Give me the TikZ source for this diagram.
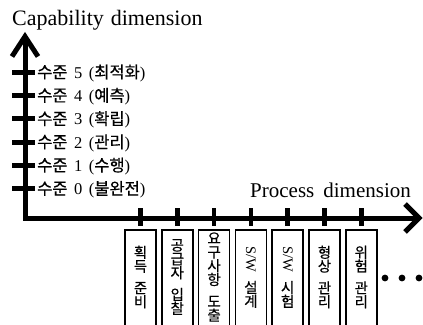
\documentclass[tikz,border=0pt]{standalone}
\usepackage{fontspec}
\usepackage{graphicx}
\setmainfont{Liberation Serif}
\newfontfamily\kr[FakeBold=0.4]{Noto Sans CJK KR}
\tikzset{
  axisline/.style={line width=5pt, line join=miter, line cap=butt},
  ytick/.style={line width=5pt},
  xtick/.style={line width=4.5pt},
  levellabel/.style={anchor=west, inner sep=0pt, font=\fontsize{16.5}{16.5}\selectfont},
  procbox/.style={draw, line width=1.6pt, minimum width=31pt, minimum height=100pt, anchor=north, inner sep=0pt},
  boxtext/.style={align=center, inner sep=0pt, font=\kr\fontsize{14.5}{13.8}\selectfont},
  dotmark/.style={circle, fill, inner sep=0pt, minimum size=6.8pt},
  titletext/.style={anchor=base west, inner sep=0pt}
}
\newcommand{\wgap}{\\[8pt]}
\newcommand{\sw}{\rotatebox[origin=c]{-90}{\fontspec{Liberation Serif}\fontsize{14.5}{14.5}\selectfont S/W}}
\begin{document}
\begin{tikzpicture}[x=1pt,y=-1pt]
\useasboundingbox (0,0) rectangle (423,324);
% titles
\node[titletext, font=\fontsize{22}{22}\selectfont] (ctitle) at (12,25) {Capability\hspace{7pt}dimension};
\node[titletext, font=\fontsize{21}{21}\selectfont] (ptitle) at (250,197) {Process\hspace{9pt}dimension};
% axes
\coordinate (O) at (25,218);
\coordinate (Ytop) at (25,36.5);
\coordinate (Xend) at (419,218);
\draw[axisline] (Ytop) -- (O) -- (Xend);
\draw[axisline] (Ytop) ++(-13,20) -- (Ytop) -- ++(13,20);
\draw[axisline] (Xend) ++(-14,-14) -- (Xend) -- ++(-14,14);
% capability levels
\foreach \k/\name in {0/불완전,1/수행,2/관리,3/확립,4/예측,5/최적화}{
  \pgfmathsetmacro{\yy}{188.6-23.3*\k}
  \draw[ytick] (12,\yy) -- (35,\yy);
  \node[levellabel] (lv\k) at (37,\yy+1) {{\kr 수준}\hspace{6.5pt}\k\hspace{6.5pt}({\kr \name})};
}
% process boxes
\foreach \i/\txt in {0/{획\\득\wgap 준\\비},
                     1/{공\\급\\자\wgap 입\\찰},
                     2/{요\\구\\사\\항\wgap 도\\출},
                     3/{\sw\wgap 설\\계},
                     4/{\sw\wgap 시\\험},
                     5/{형\\상\wgap 관\\리},
                     6/{위\\험\wgap 관\\리}}{
  \pgfmathsetmacro{\xx}{140.5+36.8*\i}
  \draw[xtick] (\xx,208) -- (\xx,226);
  \node[procbox] (b\i) at (\xx,229) {};
  \node[boxtext] (t\i) at (\xx,277) {\txt};
}
% ellipsis dots
\node[dotmark] (d1) at (385,278) {};
\node[dotmark] (d2) at (402,278) {};
\node[dotmark] (d3) at (419,278) {};
\end{tikzpicture}
\end{document}
